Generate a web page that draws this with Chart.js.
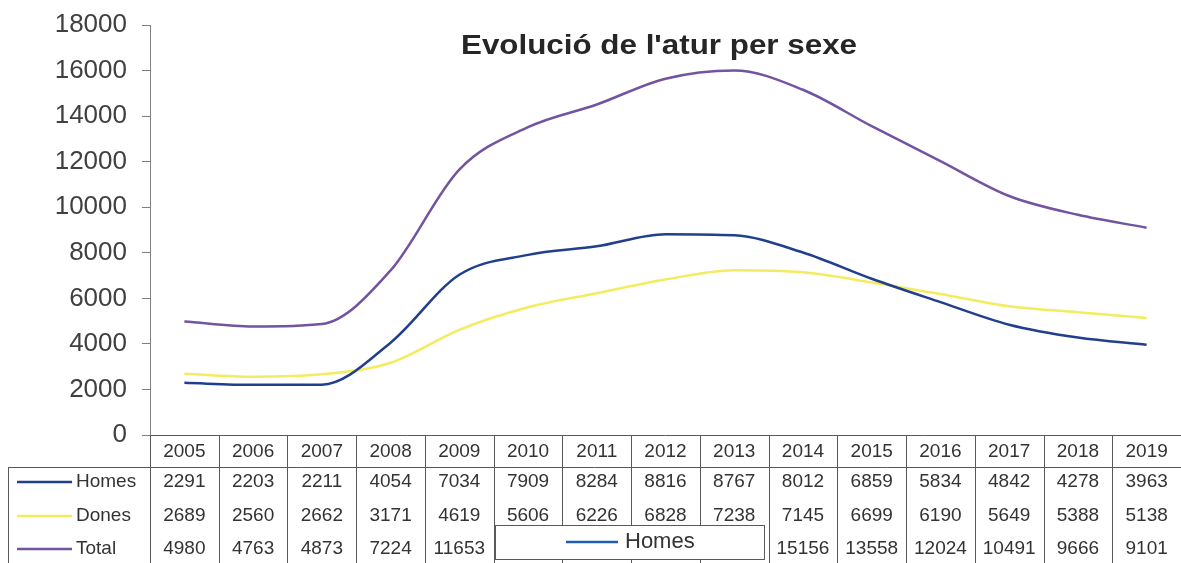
<!DOCTYPE html>
<html>
<head>
<meta charset="utf-8">
<title>Evolució de l'atur per sexe</title>
<script src="https://cdn.jsdelivr.net/npm/chart.js@4/dist/chart.umd.min.js"></script>
<style>
  html, body { margin: 0; padding: 0; background: #fff; }
  canvas { display: block; }
</style>
</head>
<body>
<canvas id="atur" width="1181" height="563"></canvas>
<script>
// ── Data ──────────────────────────────────────────────────────────────────
var years  = ['2005', '2006', '2007', '2008', '2009', '2010', '2011', '2012',
              '2013', '2014', '2015', '2016', '2017', '2018', '2019'];
var homes  = [2291, 2203, 2211, 4054, 7034, 7909, 8284, 8816, 8767, 8012, 6859, 5834, 4842, 4278, 3963];
var dones  = [2689, 2560, 2662, 3171, 4619, 5606, 6226, 6828, 7238, 7145, 6699, 6190, 5649, 5388, 5138];
var total  = [4980, 4763, 4873, 7224, 11653, 13515, 14510, 15644, 16005, 15156, 13558, 12024, 10491, 9666, 9101];
var yTicks = { min: 0, max: 18000, step: 2000 };

var FONT     = '"Liberation Sans", Arial, sans-serif';
var TEXT_COL = '#333333';
var AXIS_COL = '#808080';

var series = [
  { label: 'Homes', data: homes, color: '#213F8C' },
  { label: 'Dones', data: dones, color: '#F3EC5E' },
  { label: 'Total', data: total, color: '#7254A0' }
];

// Title, data table and the stray legend box, drawn over the chart
var tablePlugin = {
  id: 'dataTable',
  afterDraw: function(chart) {
    var ctx  = chart.ctx;
    var area = chart.chartArea;
    var xs   = chart.scales.x;
    var colW = (area.right - area.left) / years.length;
    var top  = area.bottom;
    var hdrBottom = 467;
    var bottom = chart.height;
    var rowY = [482, 516, 549];

    ctx.save();

    // table grid
    ctx.strokeStyle = '#595959';
    ctx.lineWidth = 1;
    ctx.beginPath();
    ctx.moveTo(area.left, top + 0.5);
    ctx.lineTo(area.right, top + 0.5);
    ctx.moveTo(8, hdrBottom + 0.5);
    ctx.lineTo(area.right, hdrBottom + 0.5);
    ctx.moveTo(8.5, hdrBottom);
    ctx.lineTo(8.5, bottom);
    for (var i = 0; i < years.length; i++) {
      var bx = Math.round(xs.getPixelForValue(i) - colW / 2) + 0.5;
      ctx.moveTo(bx, top);
      ctx.lineTo(bx, bottom);
    }
    ctx.stroke();

    // year header + values
    ctx.fillStyle = TEXT_COL;
    ctx.font = '19px ' + FONT;
    ctx.textAlign = 'center';
    ctx.textBaseline = 'middle';
    years.forEach(function(y, i) {
      var cx = xs.getPixelForValue(i);
      ctx.fillText(y, cx, 452);
      series.forEach(function(s, r) {
        ctx.fillText(String(s.data[i]), cx, rowY[r]);
      });
    });

    // row headers with legend keys
    ctx.textAlign = 'left';
    series.forEach(function(s, r) {
      ctx.strokeStyle = s.color;
      ctx.lineWidth = 2.5;
      ctx.beginPath();
      ctx.moveTo(17, rowY[r]);
      ctx.lineTo(72, rowY[r]);
      ctx.stroke();
      ctx.fillStyle = TEXT_COL;
      ctx.fillText(s.label, 76, rowY[r]);
    });

    // stray legend box (only the first entry visible)
    ctx.fillStyle = '#ffffff';
    ctx.fillRect(495, 525, 269, 34);
    ctx.strokeStyle = '#595959';
    ctx.lineWidth = 1;
    ctx.strokeRect(495.5, 525.5, 269, 34);
    ctx.strokeStyle = '#1F5DAE';
    ctx.lineWidth = 2.5;
    ctx.beginPath();
    ctx.moveTo(566, 542);
    ctx.lineTo(618, 542);
    ctx.stroke();
    ctx.fillStyle = TEXT_COL;
    ctx.font = '22px ' + FONT;
    ctx.fillText(series[0].label, 625, 542);

    // title, slightly stretched like the original export
    var title = "Evolució de l'atur per sexe";
    ctx.font = 'bold 28px ' + FONT;
    ctx.fillStyle = '#262626';
    ctx.textAlign = 'left';
    ctx.textBaseline = 'alphabetic';
    var w  = ctx.measureText(title).width;
    var sx = 396 / w;
    ctx.translate(461, 54);
    ctx.scale(sx, 1);
    ctx.fillText(title, 0, 0);

    ctx.restore();
  }
};

var datasets = series.map(function(s) {
  return {
    label:                  s.label,
    data:                   s.data,
    borderColor:            s.color,
    backgroundColor:        s.color,
    borderWidth:            2.5,
    pointRadius:            0,
    cubicInterpolationMode: 'monotone',
    fill:                   false
  };
});

new Chart(document.getElementById('atur'), {
  type: 'line',
  data: { labels: years, datasets: datasets },
  plugins: [tablePlugin],
  options: {
    responsive: false,
    animation: false,
    layout: { padding: { top: 25, bottom: 128, right: 0, left: 0 } },
    plugins: {
      legend:  { display: false },
      title:   { display: false },
      tooltip: { enabled: false }
    },
    scales: {
      x: {
        display: false,
        offset:  true
      },
      y: {
        min: yTicks.min,
        max: yTicks.max,
        ticks: {
          stepSize: yTicks.step,
          color:    '#404040',
          padding:  15,
          font:     { family: FONT, size: 26 },
          callback: function(v) { return String(v); }
        },
        grid:   { drawOnChartArea: false, tickLength: 8, color: AXIS_COL },
        border: { color: AXIS_COL },
        afterFit: function(scale) {
          scale.width = 150;
          scale.paddingTop = 0;
          scale.paddingBottom = 0;
        }
      }
    }
  }
});
</script>
</body>
</html>
